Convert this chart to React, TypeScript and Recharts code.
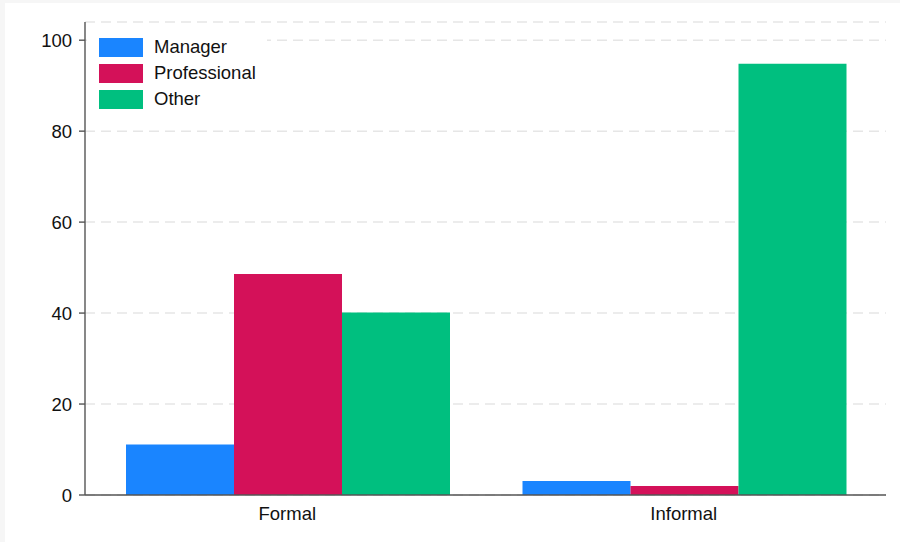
import { BarChart, Bar, XAxis, YAxis, CartesianGrid } from "recharts";

const categories = ["Formal", "Informal"];
const manager = [11.1, 3.1];
const professional = [48.6, 2.0];
const other = [40.1, 94.8];
const yTicks = [0, 20, 40, 60, 80, 100];

const series = [
  { key: "Manager", values: manager, color: "#1a85ff" },
  { key: "Professional", values: professional, color: "#d41159" },
  { key: "Other", values: other, color: "#00bf7f" },
];

const chartData = categories.map((name, i) => {
  const row: Record<string, string | number> = { name };
  series.forEach((s) => {
    row[s.key] = s.values[i];
  });
  return row;
});

const font = "'Liberation Sans', Arial, sans-serif";

// legend sits inside the plot, top-left, on a white box over the grid
const LegendBox = () => (
  <div
    style={{
      position: "absolute",
      left: 87,
      top: 30,
      width: 180,
      height: 84,
      background: "#fff",
      boxSizing: "border-box",
      padding: "4px 0 0 12px",
      fontFamily: font,
    }}
  >
    {series.map((s) => (
      <div key={s.key} style={{ display: "flex", alignItems: "center", height: 26 }}>
        <span
          style={{ width: 44, height: 19, background: s.color, display: "inline-block", marginRight: 11 }}
        />
        <span style={{ fontSize: 18.5, color: "#111" }}>{s.key}</span>
      </div>
    ))}
  </div>
);

export default function App() {
  return (
    <div
      style={{
        position: "absolute",
        left: 0,
        top: 0,
        width: 900,
        height: 542,
        background: "#f6f6f6",
      }}
    >
      <div style={{ position: "absolute", left: 5, top: 3, width: 895, height: 539, background: "#fff" }} />
      <div style={{ position: "absolute", left: 0, top: 0 }}>
        <BarChart
          width={900}
          height={542}
          data={chartData}
          margin={{ top: 22, right: 14, left: 0, bottom: 0 }}
          barCategoryGap={37}
          barGap={0}
        >
          <CartesianGrid vertical={false} stroke="#e6e6e6" strokeDasharray="10 6" strokeWidth={1.5} />
          <XAxis
            dataKey="name"
            height={47}
            padding={{ left: 4, right: 4 }}
            tickLine={false}
            tickSize={6}
            tickMargin={6}
            stroke="#555"
            strokeWidth={1.4}
            fontSize={18.5}
            fontFamily={font}
            tick={{ fill: "#111", fontSize: 18.5, fontFamily: font }}
          />
          <YAxis
            width={85}
            domain={[0, 104]}
            ticks={yTicks}
            tickSize={6}
            tickMargin={7}
            stroke="#555"
            strokeWidth={1.4}
            fontSize={18.5}
            fontFamily={font}
            tick={{ fill: "#111", fontSize: 18.5, fontFamily: font }}
          />
          {series.map((s) => (
            <Bar key={s.key} dataKey={s.key} fill={s.color} isAnimationActive={false} />
          ))}
        </BarChart>
      </div>
      <LegendBox />
    </div>
  );
}
